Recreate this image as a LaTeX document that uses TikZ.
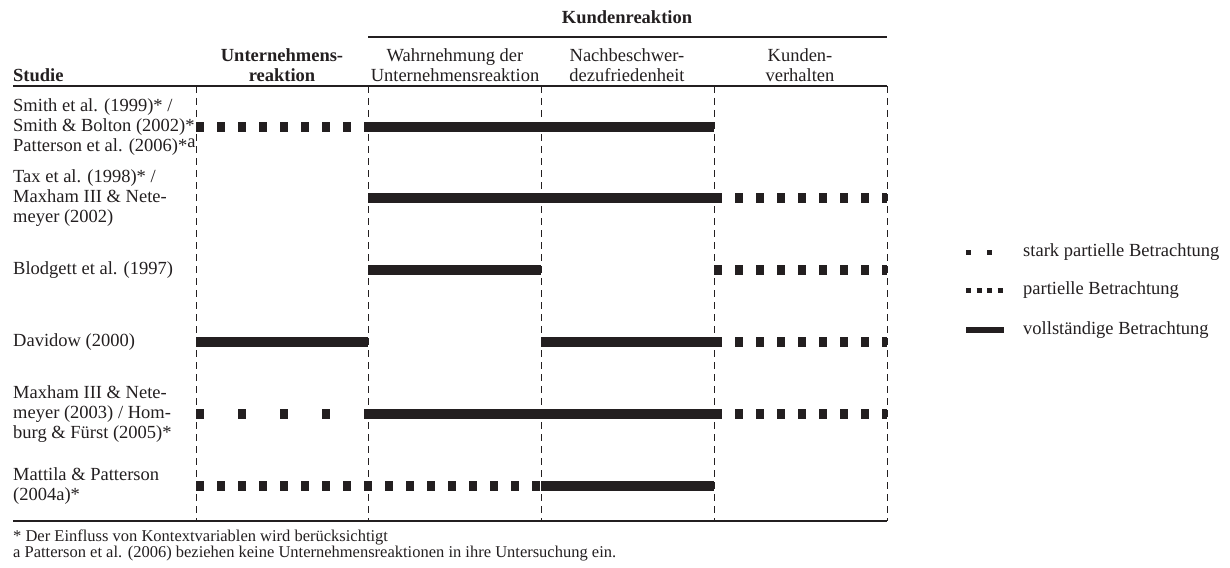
\documentclass[tikz,border=0pt]{standalone}
\usepackage{fontspec}
\setmainfont{Liberation Serif}
\definecolor{balken}{RGB}{35,31,32}
\tikzset{
  txt/.style={inner sep=0pt,text=balken,font=\fontsize{18.5}{20}\selectfont},
  studie/.style={txt,anchor=west,align=left},
  kopf/.style={txt,align=center},
  fuss/.style={inner sep=0pt,anchor=west,text=balken,font=\fontsize{16.5}{17}\selectfont},
  linie/.style={draw=balken,line width=1.2pt},
  spalte/.style={draw=balken,line width=0.8pt,dash pattern=on 7pt off 5pt},
  voll/.style={draw=balken,line width=10pt},
  partiell/.style={draw=balken,line width=10pt,dash pattern=on 8pt off 13pt},
  starkpartiell/.style={draw=balken,line width=10pt,dash pattern=on 8pt off 34pt},
  lvoll/.style={draw=balken,line width=6pt},
  lpartiell/.style={draw=balken,line width=5pt,dash pattern=on 5pt off 5.5pt},
  lstark/.style={draw=balken,line width=5pt,dash pattern=on 5pt off 16pt}
}
\begin{document}
\begin{tikzpicture}[x=1pt,y=-1pt]
            \useasboundingbox (0,0) rectangle (1230,567);
            \coordinate(oben) at (0,37);
            \coordinate(links) at (13,86);
            \coordinate(unten) at (13,521);
            \coordinate(c0) at (196,86);
            \coordinate(c1) at (368,86);
            \coordinate(c2) at (541,86);
            \coordinate(c3) at (714,86);
            \coordinate(c4) at (887,86);
            \node(KR) [kopf] at (627,17) {\textbf{Kundenreaktion}};
            \node(St) [studie] at (13,75) {\textbf{Studie}};
            \node(UR) [kopf] at (282,65) {\textbf{Unternehmens-}\\\textbf{reaktion}};
            \node(WU) [kopf] at (455,65) {Wahrnehmung der\\Unternehmensreaktion};
            \node(NZ) [kopf] at (627,65) {Nachbeschwer-\\dezufriedenheit};
            \node(KV) [kopf] at (800,65) {Kunden-\\verhalten};
            \draw[linie](c1 |- oben) -- (c4 |- oben);
            \draw[linie](links) -- (c4);
            \draw[linie](unten) -- (c4 |- unten);
            \foreach \c in {c0,c1,c2,c3,c4}
              \draw[spalte](\c) -- (\c |- unten);
            \node(r1) [studie] at (13,127) {Smith et al. (1999)* /\\Smith \& Bolton (2002)*\\Patterson et al. (2006)*\raisebox{4pt}{a}};
            \node(r2) [studie] at (13,198) {Tax et al. (1998)* /\\Maxham III \& Nete-\\meyer (2002)};
            \node(r3) [studie] at (13,270) {Blodgett et al. (1997)};
            \node(r4) [studie] at (13,342) {Davidow (2000)};
            \node(r5) [studie] at (13,414) {Maxham III \& Nete-\\meyer (2003) / Hom-\\burg \& Fürst (2005)*};
            \node(r6) [studie] at (13,486) {Mattila \& Patterson\\(2004a)*};
            \draw[partiell](c0 |- r1) -- (c1 |- r1);
            \draw[voll](c1 |- r1) -- (c3 |- r1);
            \draw[voll](c1 |- r2) -- (c3 |- r2);
            \draw[partiell](c3 |- r2) -- (c4 |- r2);
            \draw[voll](c1 |- r3) -- (c2 |- r3);
            \draw[partiell](c3 |- r3) -- (c4 |- r3);
            \draw[voll](c0 |- r4) -- (c1 |- r4);
            \draw[voll](c2 |- r4) -- (c3 |- r4);
            \draw[partiell](c3 |- r4) -- (c4 |- r4);
            \draw[starkpartiell](c0 |- r5) -- (c1 |- r5);
            \draw[voll](c1 |- r5) -- (c3 |- r5);
            \draw[partiell](c3 |- r5) -- (c4 |- r5);
            \draw[partiell](c0 |- r6) -- (c2 |- r6);
            \draw[voll](c2 |- r6) -- (c3 |- r6);
            \node(l1) [studie] at (1023,252) {stark partielle Betrachtung};
            \node(l2) [studie] at (1023,290) {partielle Betrachtung};
            \node(l3) [studie] at (1023,330) {vollständige Betrachtung};
            \coordinate(la) at (966,0);
            \coordinate(lb) at (1004,0);
            \draw[lstark](la |- l1) -- (lb |- l1);
            \draw[lpartiell](la |- l2) -- (lb |- l2);
            \draw[lvoll](la |- l3) -- (lb |- l3);
            \node(f1) [fuss] at (13,537) {* Der Einfluss von Kontextvariablen wird berücksichtigt};
            \node(f2) [fuss] at (13,554) {a Patterson et al. (2006) beziehen keine Unternehmensreaktionen in ihre Untersuchung ein.};
\end{tikzpicture}
\end{document}
